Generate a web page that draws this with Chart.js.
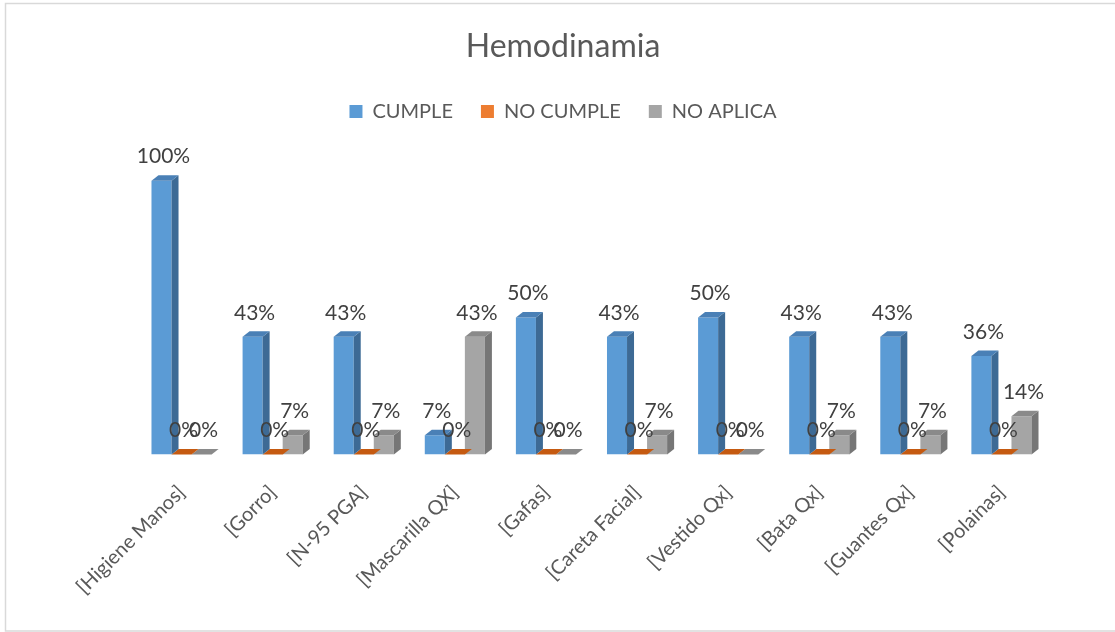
<!DOCTYPE html>
<html>
<head>
<meta charset="utf-8">
<script src="https://cdn.jsdelivr.net/npm/chart.js@4"></script>
<style>
  body { margin: 0; background: #fff; }
  canvas { display: block; }
</style>
</head>
<body>
<canvas id="chart" width="1115" height="632"></canvas>
<script>
const categories = ['[Higiene Manos]', '[Gorro]', '[N-95 PGA]', '[Mascarilla QX]', '[Gafas]',
  '[Careta Facial]', '[Vestido Qx]', '[Bata Qx]', '[Guantes Qx]', '[Polainas]'];
const cumple = [100, 43, 43, 7, 50, 43, 50, 43, 43, 36];
const noCumple = [0, 0, 0, 0, 0, 0, 0, 0, 0, 0];
const noAplica = [0, 7, 7, 43, 0, 7, 0, 7, 7, 14];

const FONT = 'Lato, "Open Sans", sans-serif';
// front, side, top colours per series
const shades = [
  ['#5B9BD5', '#3D6A95', '#4A80B6'],
  ['#ED7D31', '#B85A1C', '#C55A11'],
  ['#A5A5A5', '#767676', '#8A8A8A']
];
const DX = 7, DY = 5.5;

// draws the side and top faces so the bars look like Excel's 3D columns
const depthPlugin = {
  id: 'depth',
  afterDatasetDraw(chart, args) {
    const ctx = chart.ctx;
    const s = shades[args.index];
    args.meta.data.forEach(bar => {
      const p = bar.getProps(['x', 'y', 'base', 'width'], true);
      const l = p.x - p.width / 2, r = p.x + p.width / 2;
      ctx.save();
      if (p.base - p.y > 0.5) {
        ctx.fillStyle = s[1];
        ctx.beginPath();
        ctx.moveTo(r, p.y);
        ctx.lineTo(r + DX, p.y - DY);
        ctx.lineTo(r + DX, p.base - DY);
        ctx.lineTo(r, p.base);
        ctx.closePath();
        ctx.fill();
      }
      ctx.fillStyle = s[2];
      ctx.beginPath();
      ctx.moveTo(l, p.y);
      ctx.lineTo(r, p.y);
      ctx.lineTo(r + DX, p.y - DY);
      ctx.lineTo(l + DX, p.y - DY);
      ctx.closePath();
      ctx.fill();
      ctx.restore();
    });
  }
};

const labelPlugin = {
  id: 'valueLabels',
  afterDatasetsDraw(chart) {
    const ctx = chart.ctx;
    ctx.save();
    ctx.font = '21px ' + FONT;
    ctx.fillStyle = '#404040';
    ctx.textAlign = 'center';
    ctx.textBaseline = 'middle';
    chart.data.datasets.forEach((ds, i) => {
      chart.getDatasetMeta(i).data.forEach((bar, j) => {
        ctx.fillText(ds.data[j] + '%', bar.x + 2, bar.y - 24);
      });
    });
    ctx.restore();
  }
};

const framePlugin = {
  id: 'frame',
  beforeDraw(chart) {
    const ctx = chart.ctx;
    ctx.save();
    ctx.fillStyle = '#fff';
    ctx.fillRect(0, 0, chart.width, chart.height);
    ctx.strokeStyle = '#D9D9D9';
    ctx.lineWidth = 1.5;
    ctx.strokeRect(5.5, 3.5, chart.width, 627.5);
    ctx.restore();
  }
};

const hiddenAxis = (pos, w) => ({
  position: pos,
  display: true,
  min: 0,
  max: 118,
  grid: { display: false },
  border: { display: false },
  ticks: { display: false },
  afterFit: s => { s.width = w; }
});

new Chart(document.getElementById('chart'), {
  type: 'bar',
  data: {
    labels: categories,
    datasets: [
      { label: 'CUMPLE', data: cumple, backgroundColor: shades[0][0] },
      { label: 'NO CUMPLE', data: noCumple, backgroundColor: shades[1][0] },
      { label: 'NO APLICA', data: noAplica, backgroundColor: shades[2][0] }
    ]
  },
  options: {
    responsive: false,
    animation: false,
    datasets: { bar: { categoryPercentage: 0.66, barPercentage: 1.0 } },
    layout: { padding: { left: 68, right: 57, top: 8, bottom: 15 } },
    plugins: {
      title: {
        display: true,
        text: 'Hemodinamia',
        color: '#595959',
        font: { family: FONT, size: 32, weight: 'normal' },
        padding: { top: 19, bottom: 8 }
      },
      legend: {
        labels: {
          color: '#595959',
          font: { family: FONT, size: 20 },
          boxWidth: 13,
          boxHeight: 13,
          padding: 28
        }
      },
      tooltip: { enabled: false }
    },
    scales: {
      x: {
        grid: { display: false },
        border: { display: false },
        ticks: {
          color: '#595959',
          font: { family: FONT, size: 20 },
          minRotation: 45,
          maxRotation: 45,
          autoSkip: false,
          padding: 18
        }
      },
      y: hiddenAxis('left', 68),
      y2: hiddenAxis('right', 11)
    }
  },
  plugins: [framePlugin, depthPlugin, labelPlugin]
});
</script>
</body>
</html>
